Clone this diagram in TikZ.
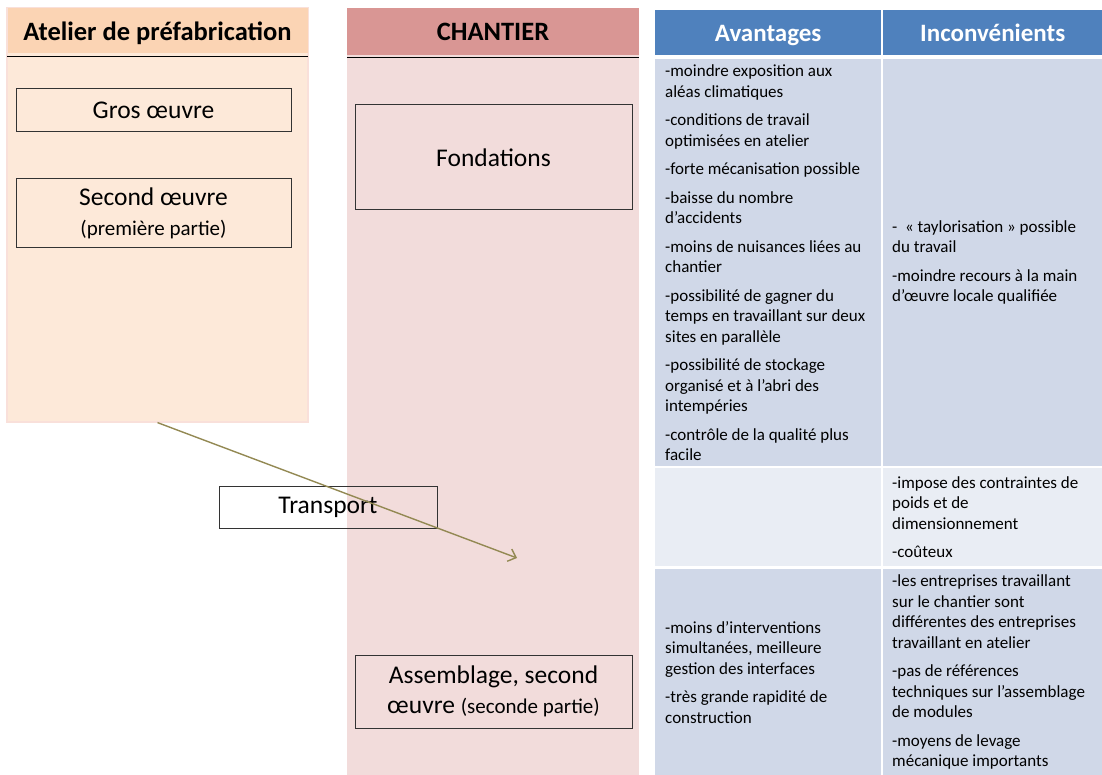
\documentclass[tikz,border=0pt]{standalone}
\usepackage{fontspec}
\setmainfont{Carlito}
\usetikzlibrary{arrows.meta}
\definecolor{peachhead}{HTML}{FBD4B4}
\definecolor{peachbody}{HTML}{FDE9D9}
\definecolor{peachedge}{HTML}{F9E0DA}
\definecolor{rosehead}{HTML}{D99694}
\definecolor{rosebody}{HTML}{F2DCDB}
\definecolor{tablehead}{HTML}{4F81BD}
\definecolor{tabledark}{HTML}{D0D8E8}
\definecolor{tablelight}{HTML}{E9EDF4}
\definecolor{olive}{HTML}{938953}
\newcommand{\boxfont}{\fontsize{25.5}{30}\selectfont}
\newcommand{\subfont}{\fontsize{21}{26}\selectfont}
\newcommand{\cellfont}{\fontsize{17}{20.5}\selectfont}

\begin{document}
\begin{tikzpicture}[x=1pt,y=-1pt,
column/.style={inner sep=0pt},
colhead/.style={inner sep=0pt, text height=20pt, text depth=1pt, font=\fontsize{26.5}{30}\selectfont\bfseries},
task/.style={draw=black!80, line width=1pt, inner sep=0pt, align=center, font=\boxfont},
cell/.style={inner sep=0pt, anchor=north west, minimum width=#1},
cellhead/.style={text=white, text height=19pt, text depth=1pt, font=\fontsize{25}{30}\selectfont\bfseries},
celltext/.style={inner sep=0pt, anchor=west, align=left, font=\cellfont},
transfer/.style={draw=olive, line width=1.4pt, -{Straight Barb[length=7pt,width=13pt]}}]
\useasboundingbox (0,0) rectangle (1102,775);

% the two columns
\node [column, fill=peachbody, draw=peachedge, line width=1.2pt,
  minimum width=301pt, minimum height=414pt] (atelier) at (157.5,215) {};
\node [column, fill=rosebody, minimum width=292pt, minimum height=767pt] (chantier) at (493,391.5) {};
\node [colhead, fill=peachhead, anchor=north, minimum width=300pt, minimum height=45pt]
  (atelierhead) at ([yshift=-0.6pt]atelier.north) {Atelier de préfabrication};
\node [colhead, fill=rosehead, anchor=north, minimum width=292pt, minimum height=47pt]
  (chantierhead) at (chantier.north) {CHANTIER};
\draw [line width=1.2pt] ([yshift=-3.5pt]atelierhead.south west) -- ([yshift=-3.5pt]atelierhead.south east);
\draw [line width=1.2pt] ([yshift=-2pt]chantierhead.south west) -- ([yshift=-2pt]chantierhead.south east);

% the steps
\node [task, minimum width=275pt, minimum height=43pt] (gros) at (153.5,110.5) {Gros œuvre};
\node [task, minimum width=275pt, minimum height=69pt] (second) at (153.5,213.5)
  {Second œuvre\\{\subfont (première partie)}};
\node [task, minimum width=277pt, minimum height=105pt] (fond) at (493.5,157.5) {Fondations};
\node [task, minimum width=218pt, minimum height=42pt] (transport) at (328,507) {Transport};
\node [task, minimum width=277pt, minimum height=73pt] (assemblage) at (493.5,691.5)
  {Assemblage, second\\œuvre {\subfont (seconde partie)}};

% the table
\node [cell=226pt, fill=tablehead, minimum height=45pt, cellhead] (a0) at (655,10) {Avantages};
\node [cell=219pt, fill=tablehead, minimum height=45pt, cellhead] (i0) at (883,10) {Inconvénients};
\foreach \r/\ya/\yb/\shade in {1/59/466/tabledark, 2/468/566/tablelight, 3/569/775/tabledark}
{
\node [cell=226pt, fill=\shade, minimum height={\yb-\ya}] (a\r) at (655,\ya) {};
\node [cell=219pt, fill=\shade, minimum height={\yb-\ya}] (i\r) at (883,\ya) {};
}

\node [celltext] (a1text) at ([xshift=10pt]a1.west) {-moindre exposition aux\\aléas climatiques\\[8pt]
  -conditions de travail\\optimisées en atelier\\[8pt]
  -forte mécanisation possible\\[8pt]
  -baisse du nombre\\d’accidents\\[8pt]
  -moins de nuisances liées au\\chantier\\[8pt]
  -possibilité de gagner du\\temps en travaillant sur deux\\sites en parallèle\\[8pt]
  -possibilité de stockage\\organisé et à l’abri des\\intempéries\\[8pt]
  -contrôle de la qualité plus\\facile};
\node [celltext] (i1text) at ([xshift=9pt]i1.west) {-~ « taylorisation » possible\\du travail\\[8pt]
  -moindre recours à la main\\d’œuvre locale qualifiée};
\node [celltext] (i2text) at ([xshift=9pt]i2.west) {-impose des contraintes de\\poids et de\\dimensionnement\\[8pt]
  -coûteux};
\node [celltext] (a3text) at ([xshift=10pt]a3.west) {-moins d’interventions\\simultanées, meilleure\\gestion des interfaces\\[8pt]
  -très grande rapidité de\\construction};
\node [celltext] (i3text) at ([xshift=9pt]i3.west) {-les entreprises travaillant\\sur le chantier sont\\différentes des entreprises\\travaillant en atelier\\[8pt]
  -pas de références\\techniques sur l’assemblage\\de modules\\[8pt]
  -moyens de levage\\mécanique importants};

% transport to the site
\coordinate (drop) at (517,558);
\draw [transfer] (atelier.south) -- (drop);
\end{tikzpicture}
\end{document}
